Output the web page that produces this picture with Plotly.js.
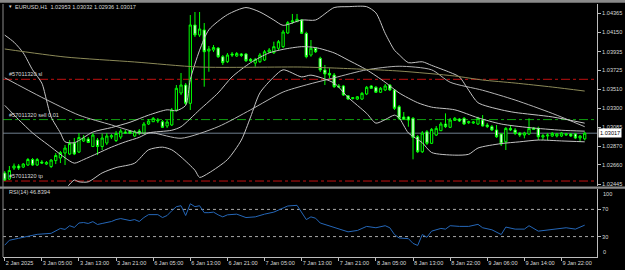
<!DOCTYPE html>
<html><head><meta charset="utf-8">
<script src="https://cdn.plot.ly/plotly-3.0.1.min.js"></script>
<style>html,body{margin:0;padding:0;background:#000;overflow:hidden}#chart{width:625px;height:270px}</style>
</head><body><div id="chart"></div>
<script>
// ---- candle data (EURUSD H1), bar 0 = 2 Jan 2025 21:00 ----
const openP = [
1.02569,1.02501,1.02625,1.02648,1.02636,1.02659,1.02721,1.02659,1.02693,1.02670,
1.02642,1.02709,1.02738,1.02794,1.02783,1.02906,1.02805,1.02929,1.02951,1.02867,
1.02940,1.02867,1.02906,1.02974,1.02934,1.02974,1.03030,1.03041,1.02985,1.03041,
1.03015,1.03120,1.03146,1.03154,1.03146,1.03098,1.03109,1.03278,1.03469,1.03559,
1.03353,1.04234,1.04121,1.04178,1.03941,1.03953,1.03975,1.03877,1.03821,1.03908,
1.03885,1.03908,1.03908,1.03848,1.03806,1.03821,1.03840,1.03930,1.03922,1.03972,
1.03990,1.04144,1.04268,1.04271,1.04290,1.04140,1.03896,1.03972,1.03859,1.03728,
1.03690,1.03671,1.03548,1.03548,1.03438,1.03407,1.03401,1.03401,1.03458,1.03548,
1.03533,1.03477,1.03503,1.03559,1.03503,1.03315,1.03199,1.03199,1.03184,1.02977,
1.02808,1.03033,1.02903,1.02996,1.03045,1.03120,1.03083,1.03161,1.03176,1.03184,
1.03135,1.03131,1.03120,1.03165,1.03109,1.03090,1.03053,1.03008,1.02921,1.03071,
1.03053,1.03019,1.02996,1.03008,1.03075,1.03071,1.02974,1.02985,1.02985,1.02985,
1.02985,1.02996,1.03008,1.03008,1.02963,1.02953];
const highP = [
1.02591,1.02648,1.02676,1.02670,1.02681,1.02738,1.02738,1.02738,1.02715,1.02704,
1.02726,1.02794,1.02816,1.02884,1.02940,1.02963,1.03019,1.02996,1.02974,1.03019,
1.02963,1.03013,1.03019,1.03008,1.03041,1.03064,1.03053,1.03053,1.03053,1.03064,
1.03143,1.03176,1.03199,1.03188,1.03165,1.03165,1.03300,1.03559,1.03694,1.03581,
1.04346,1.04380,1.04380,1.04256,1.03998,1.04009,1.03986,1.03896,1.03919,1.03930,
1.03930,1.03919,1.03919,1.03863,1.03863,1.03919,1.03953,1.03975,1.04046,1.04065,
1.04178,1.04279,1.04358,1.04358,1.04301,1.04158,1.04065,1.03986,1.03877,1.03784,
1.03747,1.03694,1.03570,1.03559,1.03446,1.03424,1.03435,1.03480,1.03548,1.03559,
1.03548,1.03536,1.03570,1.03570,1.03514,1.03334,1.03255,1.03210,1.03199,1.02996,
1.03041,1.03053,1.03075,1.03098,1.03143,1.03240,1.03188,1.03199,1.03188,1.03199,
1.03157,1.03154,1.03202,1.03221,1.03131,1.03109,1.03109,1.03019,1.03086,1.03109,
1.03075,1.03030,1.03033,1.03184,1.03086,1.03090,1.03008,1.03019,1.03030,1.03019,
1.03030,1.03019,1.03019,1.03019,1.02996,1.03032];
const lowP = [
1.02479,1.02490,1.02603,1.02603,1.02625,1.02648,1.02648,1.02648,1.02670,1.02659,
1.02625,1.02670,1.02681,1.02659,1.02771,1.02771,1.02794,1.02918,1.02906,1.02861,
1.02771,1.02828,1.02884,1.02951,1.02918,1.02951,1.03008,1.03008,1.02974,1.02996,
1.03008,1.03109,1.03143,1.03131,1.03075,1.03075,1.03098,1.03259,1.03446,1.03334,
1.03278,1.04099,1.04099,1.03540,1.03708,1.03930,1.03863,1.03784,1.03806,1.03874,
1.03874,1.03874,1.03818,1.03818,1.03765,1.03806,1.03829,1.03919,1.03908,1.03953,
1.03975,1.04133,1.04245,1.04268,1.04133,1.03859,1.03877,1.03919,1.03705,1.03559,
1.03634,1.03525,1.03525,1.03435,1.03390,1.03396,1.03390,1.03390,1.03446,1.03514,
1.03469,1.03469,1.03491,1.03491,1.03278,1.03165,1.03165,1.03090,1.02723,1.02794,
1.02794,1.02884,1.02895,1.02985,1.03041,1.03075,1.03075,1.03154,1.03143,1.03109,
1.03120,1.03120,1.03109,1.03090,1.03075,1.03041,1.02963,1.02873,1.02828,1.03041,
1.02996,1.02974,1.02959,1.02996,1.03053,1.02940,1.02940,1.02940,1.02974,1.02970,
1.02974,1.02985,1.02974,1.02951,1.02921,1.02936];
const closeP = [
1.02490,1.02597,1.02648,1.02625,1.02670,1.02721,1.02659,1.02721,1.02681,1.02687,
1.02715,1.02766,1.02799,1.02850,1.02901,1.02783,1.02968,1.02963,1.02912,1.02996,
1.02867,1.02963,1.02985,1.02989,1.03013,1.03041,1.03019,1.03015,1.03033,1.03015,
1.03120,1.03154,1.03184,1.03165,1.03083,1.03143,1.03278,1.03522,1.03559,1.03353,
1.04234,1.04121,1.04189,1.03933,1.03964,1.03981,1.03877,1.03810,1.03896,1.03896,
1.03913,1.03891,1.03832,1.03829,1.03848,1.03896,1.03933,1.03953,1.03990,1.04046,
1.04155,1.04260,1.04279,1.04298,1.04140,1.03877,1.03972,1.03933,1.03728,1.03683,
1.03671,1.03540,1.03536,1.03446,1.03401,1.03416,1.03427,1.03465,1.03533,1.03522,
1.03477,1.03522,1.03548,1.03503,1.03297,1.03184,1.03176,1.03165,1.02970,1.02808,
1.03019,1.02903,1.03060,1.03071,1.03120,1.03090,1.03165,1.03184,1.03154,1.03120,
1.03146,1.03143,1.03184,1.03098,1.03090,1.03053,1.02977,1.02895,1.03071,1.03053,
1.03015,1.02996,1.03019,1.03071,1.03060,1.02977,1.02989,1.02996,1.03015,1.03008,
1.03019,1.03008,1.02985,1.02963,1.02985,1.03017];

// ---- indicator lines (bar index, price) ----
const bbUpBars = [0,2,4,6,8,9,10,12,13,15,19,23,27,31,35,37,39,40,42,44,48,52,55,58,60,64,67,71,74,78,80,82,84,85,87,90,92,96,98,100,102,107,110,118,125];
const bbUpVals = [1.0412,1.0404,1.0392,1.0373,1.0358,1.0339,1.0320,1.0302,1.0292,1.0291,1.0303,1.0308,1.0314,1.0322,1.0328,1.0327,1.0333,1.0362,1.0395,1.0418,1.0435,1.0443,1.0438,1.0429,1.0423,1.0429,1.0429,1.0443,1.0444,1.0444,1.0437,1.0414,1.0395,1.0390,1.0381,1.0382,1.0378,1.0370,1.0365,1.0350,1.0336,1.0328,1.0325,1.0320,1.0313];
const bbMidBars = [0,3,6,10,13,15,17,20,23,26,29,31,36,38,42,46,49,53,57,60,64,67,71,74,78,82,85,89,92,97,102,107,113,120,125];
const bbMidVals = [1.0333,1.0317,1.0302,1.0286,1.0274,1.0268,1.0272,1.0279,1.0286,1.0292,1.0297,1.0302,1.0305,1.0309,1.0328,1.0347,1.0365,1.0381,1.0392,1.0396,1.0399,1.0398,1.0392,1.0384,1.0373,1.0359,1.0347,1.0336,1.0331,1.0328,1.0319,1.0312,1.0308,1.0305,1.0304];
const bbLowBars = [13,15,16,18,21,24,28,31,34,36,38,41,42,44,48,51,53,55,58,60,64,66,71,74,78,80,82,84,85,87,90,92,97,100,102,107,111,115,120,125];
const bbLowVals = [1.0238,1.0249,1.0247,1.0247,1.0257,1.0263,1.0268,1.0283,1.0286,1.0283,1.0275,1.0260,1.0252,1.0257,1.0272,1.0294,1.0320,1.0347,1.0365,1.0373,1.0365,1.0367,1.0358,1.0342,1.0324,1.0313,1.0317,1.0322,1.0319,1.0302,1.0291,1.0280,1.0277,1.0278,1.0285,1.0290,1.0292,1.0294,1.0293,1.0292];
const slowBars = [0,8,16,23,29,32,38,46,53,60,65,71,78,85,92,96,103,110,118,125];
const slowVals = [1.0364,1.0342,1.0322,1.0311,1.0302,1.0302,1.0296,1.0309,1.0328,1.0348,1.0356,1.0364,1.0373,1.0377,1.0373,1.0359,1.0350,1.0339,1.0324,1.0309];
const maBars = [0,13,28,42,64,71,85,97,103,110,118,125];
const maVals = [1.03964,1.03874,1.03818,1.03761,1.03761,1.03750,1.03716,1.03660,1.03615,1.03581,1.03536,1.03491];

// ---- RSI(14) ----
const rsiBars = [0,1,3,5,7,10,11,12,13,14,15,16,17,18,19,20,21,22,23,24,25,27,28,29,30,31,33,34,35,36,37,38,39,40,41,42,43,44,45,46,47,48,50,52,54,56,58,60,61,63,64,65,66,67,68,69,71,73,74,76,78,80,82,83,84,85,87,88,89,90,91,92,94,95,96,98,100,102,103,105,107,108,110,112,113,115,117,119,121,123,125];
const rsiVals = [17.4,24.6,27.5,30.4,33.3,34.8,39,42,40.6,46,43.5,50,50.7,49.3,52,47.8,49.3,50.7,52.2,55,56.5,53.6,55,52.2,58,62.3,62.3,58,61,68,74,75.4,61,78.3,74,75.4,65.2,65.2,66,62,59,62,63,58,59,63,66,72,75,76,66,55,59,57,50,48,43,39,37,39,45,43,46,43,33,28,27,20,17,33,29,38,42,41,46,45,45,48,43,40,33,44,41,41,46,38,40,42,43,41,46.8394];

// ---- levels and labels ----
const levelSL = 1.03623, levelSell = 1.03170, levelTP = 1.02479;
const labelSL = '#57011320 sl', labelSell = '#57011320 sell 0.01', labelTP = '#57011320 tp';
const symbol = 'EURUSD,H1';
const priceTicks = [1.04365,1.04150,1.03935,1.03725,1.03510,1.03300,1.03085,1.02870,1.02660,1.02445];
const timeTickBars = [0,8,16,24,32,40,48,56,64,72,80,88,96,104,112,120];
const timeTickText = ['2 Jan 2025','3 Jan 05:00','3 Jan 13:00','3 Jan 21:00','6 Jan 05:00','6 Jan 13:00','6 Jan 21:00','7 Jan 05:00','7 Jan 13:00','7 Jan 21:00','8 Jan 05:00','8 Jan 13:00','8 Jan 22:00','9 Jan 06:00','9 Jan 14:00','9 Jan 22:00'];

const bars = openP.map((_, i) => i);
const last = bars.length - 1;
const FONT = 'Liberation Sans, Arial, sans-serif';
const TXT = '#d8d8d8';
const FS = 5.6;

function line(xs, ys, color, ax) {
  return {type:'scatter', mode:'lines', x:xs, y:ys, xaxis:'x', yaxis:ax||'y',
    line:{color:color, width:1, shape:'spline', smoothing:0.7}, hoverinfo:'skip', showlegend:false};
}

const rsiTrace = line(rsiBars, rsiVals, '#2567b8', 'y2');
rsiTrace.line.shape = 'linear';
const traces = [
  line(slowBars, slowVals, '#b4b4b4'),
  line(bbUpBars, bbUpVals, '#c4c4c4'),
  line(bbMidBars, bbMidVals, '#c4c4c4'),
  line(bbLowBars, bbLowVals, '#c4c4c4'),
  line(maBars, maVals, '#8c8a58'),
  {type:'candlestick', x:bars, open:openP, high:highP, low:lowP, close:closeP, xaxis:'x', yaxis:'y',
   increasing:{line:{color:'#00ff00', width:1}, fillcolor:'#000000'},
   decreasing:{line:{color:'#00ff00', width:1}, fillcolor:'#ffffff'},
   whiskerwidth:0, hoverinfo:'skip', showlegend:false},
  rsiTrace
];

const fmt = v => v.toFixed(5);
const header = symbol + '  ' + [openP[last], highP[last], lowP[last], closeP[last]].map(fmt).join(' ');
const rsiLabel = 'RSI(14) ' + rsiVals[rsiVals.length-1].toFixed(4);

function hline(y, color, dash, yref) {
  return {type:'line', xref:'paper', x0:0, x1:1, yref:yref||'y', y0:y, y1:y, line:{color:color, width:1, dash:dash}, layer:'below'};
}
const axFont = {family:FONT, size:FS, color:TXT};

const layout = {
  width:625, height:270, paper_bgcolor:'#000000', plot_bgcolor:'#000000',
  margin:{l:3, r:28, t:4, b:13}, showlegend:false,
  font:{family:FONT, size:FS, color:TXT},
  xaxis:{anchor:'y2', range:[-0.37, 127.65], tickvals:timeTickBars, ticktext:timeTickText, tickangle:0,
    ticks:'outside', ticklen:3, tickcolor:'#bdbdbd', ticklabelposition:'outside right',
    tickfont:axFont, showgrid:false, zeroline:false,
    showline:true, linecolor:'#bdbdbd', linewidth:1, rangeslider:{visible:false}, fixedrange:true},
  yaxis:{domain:[0.2806, 1], range:[1.02423, 1.04470], side:'right', anchor:'x',
    tickvals:priceTicks, ticktext:priceTicks.map(fmt), ticks:'outside', ticklen:3, tickcolor:'#bdbdbd',
    tickfont:axFont, showgrid:false, zeroline:false,
    showline:true, linecolor:'#bdbdbd', linewidth:1, fixedrange:true},
  yaxis2:{domain:[0, 0.2688], range:[0, 100], side:'right', anchor:'x',
    tickvals:[70, 30], ticktext:['70','30'], ticks:'outside', ticklen:3, tickcolor:'#bdbdbd',
    tickfont:axFont, showgrid:false, zeroline:false,
    showline:true, linecolor:'#bdbdbd', linewidth:1, fixedrange:true},
  shapes:[
    hline(levelSL, '#c01010', 'dashdot'),
    hline(levelSell, '#10a010', 'dashdot'),
    hline(levelTP, '#c01010', 'dashdot'),
    hline(closeP[last], '#6f7f8f', 'solid'),
    hline(70, '#a8a8a8', 'dot', 'y2'),
    hline(30, '#a8a8a8', 'dot', 'y2'),
    {type:'rect', xref:'paper', yref:'paper', x0:-0.01, x1:1.05, y0:1.0045, y1:1.02, fillcolor:'#8a8a8a', line:{width:0}},
    {type:'rect', xref:'paper', yref:'paper', x0:-0.01, x1:1.05, y0:0.2700, y1:0.2790, fillcolor:'#8a8a8a', line:{width:0}},
    {type:'line', xref:'paper', yref:'paper', x0:0, x1:0, y0:0, y1:1, line:{color:'#8a8a8a', width:1}}
  ],
  annotations:[
    {xref:'paper', yref:'paper', x:0.017, y:0.989, xanchor:'left', yanchor:'middle', text:header, showarrow:false, font:axFont},
    {xref:'paper', yref:'paper', x:0.0045, y:0.989, xanchor:'left', yanchor:'middle', text:'▼', showarrow:false, font:{family:FONT, size:4.5, color:TXT}},
    {xref:'paper', yref:'y', x:0.007, y:levelSL, xanchor:'left', yanchor:'bottom', text:labelSL, showarrow:false, font:axFont},
    {xref:'paper', yref:'y', x:0.007, y:levelSell, xanchor:'left', yanchor:'bottom', text:labelSell, showarrow:false, font:axFont},
    {xref:'paper', yref:'y', x:0.007, y:levelTP, xanchor:'left', yanchor:'bottom', text:labelTP, showarrow:false, font:axFont},
    {xref:'paper', yref:'paper', x:0.007, y:0.255, xanchor:'left', yanchor:'middle', text:rsiLabel, showarrow:false, font:axFont},
    {xref:'paper', yref:'y', x:1, y:closeP[last], xanchor:'left', yanchor:'middle', xshift:1, text:fmt(closeP[last]), showarrow:false,
     bgcolor:'#ffffff', font:{family:FONT, size:FS, color:'#000000'}, borderpad:1},
    {xref:'paper', yref:'y2', x:1, y:100, xanchor:'left', yanchor:'top', xshift:4, text:'100', showarrow:false, font:axFont},
    {xref:'paper', yref:'y2', x:1, y:0, xanchor:'left', yanchor:'bottom', xshift:4, text:'0', showarrow:false, font:axFont}
  ]
};
Plotly.newPlot('chart', traces, layout, {staticPlot:true, displayModeBar:false});
</script></body></html>
